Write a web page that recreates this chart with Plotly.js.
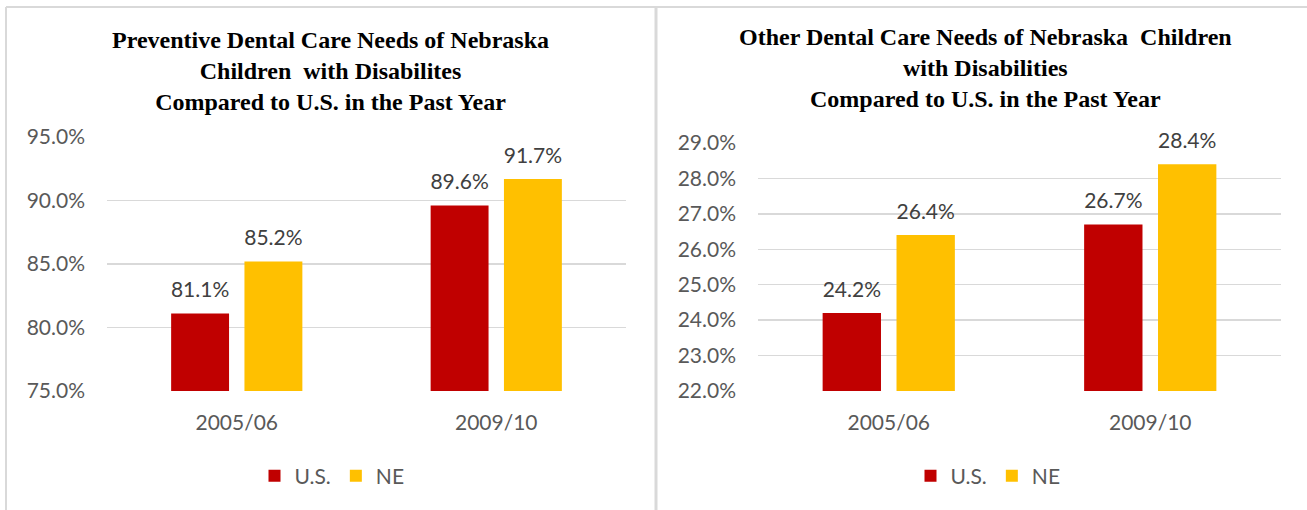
<!DOCTYPE html>
<html>
<head>
<meta charset="utf-8">
<script src="https://cdn.plot.ly/plotly-3.0.1.min.js"></script>
<style>html,body{margin:0;padding:0;background:#fff;}#chart{width:1307px;height:510px;}</style>
</head>
<body>
<div id="chart"></div>
<script>
const categories = ['2005/06', '2009/10'];
const seriesNames = ['U.S.', 'NE'];
const preventiveUS = [81.1, 89.6];
const preventiveNE = [85.2, 91.7];
const otherUS = [24.2, 26.7];
const otherNE = [26.4, 28.4];
const leftTitle = 'Preventive Dental Care Needs of Nebraska<br>Children\u00a0 with Disabilites<br>Compared to U.S. in the Past Year';
const rightTitle = 'Other Dental Care Needs of Nebraska\u00a0 Children<br>with Disabilities<br>Compared to U.S. in the Past Year';

const RED = '#C00000', GOLD = '#FFC000';
const W = 1307, H = 510;
const px = v => v / W, py = v => 1 - v / H;
const tickFont = {family: 'Lato, sans-serif', size: 21, color: '#595959'};
const labelFont = {family: 'Lato, sans-serif', size: 21, color: '#404040'};

function bar(name, y, color, xa, ya, og, ag, legend) {
  return {type: 'bar', name: name, x: categories, y: y, xaxis: xa, yaxis: ya,
    marker: {color: color}, offsetgroup: og, alignmentgroup: ag, legend: legend,
    hoverinfo: 'skip'};
}
function labels(y, xa, ya, og, ag) {
  return {type: 'scatter', mode: 'markers+text', x: categories, y: y, xaxis: xa, yaxis: ya,
    text: y.map(v => v.toFixed(1) + '%'), textposition: 'top center', textfont: labelFont,
    marker: {size: 16, opacity: 0}, offsetgroup: og, alignmentgroup: ag,
    showlegend: false, hoverinfo: 'skip', cliponaxis: false};
}

const data = [
  bar(seriesNames[0], preventiveUS, RED, 'x', 'y', 'us', 'L', 'legend'),
  bar(seriesNames[1], preventiveNE, GOLD, 'x', 'y', 'ne', 'L', 'legend'),
  bar(seriesNames[0], otherUS, RED, 'x2', 'y2', 'us', 'R', 'legend2'),
  bar(seriesNames[1], otherNE, GOLD, 'x2', 'y2', 'ne', 'R', 'legend2'),
  labels(preventiveUS, 'x', 'y', 'us', 'L'),
  labels(preventiveNE, 'x', 'y', 'ne', 'L'),
  labels(otherUS, 'x2', 'y2', 'us', 'R'),
  labels(otherNE, 'x2', 'y2', 'ne', 'R')
];

const xCommon = {type: 'category', showgrid: false, showline: false, zeroline: false, ticks: '',
  tickfont: tickFont, ticklabelstandoff: 17, fixedrange: true};
const yCommon = {showgrid: true, gridcolor: '#D9D9D9', gridwidth: 1.3, showline: false, zeroline: false,
  ticks: '', tickfont: tickFont, tickformat: '.1f', ticksuffix: '%', ticklabelstandoff: 21, fixedrange: true};

const borderColor = '#D9D9D9';
const layout = {
  width: W, height: H,
  margin: {l: 0, r: 0, t: 0, b: 0},
  paper_bgcolor: '#fff', plot_bgcolor: '#fff',
  showlegend: true,
  barmode: 'group', bargap: 0.435, bargroupgap: 0.21,
  scattermode: 'group', scattergap: 0.435,
  xaxis: Object.assign({}, xCommon, {domain: [px(107), px(626)], anchor: 'y'}),
  yaxis: Object.assign({}, yCommon, {domain: [1 - 391 / H, 1 - 137 / H], range: [75, 95], dtick: 5, anchor: 'x'}),
  xaxis2: Object.assign({}, xCommon, {domain: [px(758), px(1281)], anchor: 'y2'}),
  yaxis2: Object.assign({}, yCommon, {domain: [1 - 391 / H, 1 - 143 / H], range: [22, 29], dtick: 1, anchor: 'x2'}),
  legend: {orientation: 'h', x: px(332), xanchor: 'center', y: py(476), yanchor: 'middle',
    font: tickFont, bgcolor: 'rgba(0,0,0,0)'},
  legend2: {orientation: 'h', x: px(988), xanchor: 'center', y: py(476), yanchor: 'middle',
    font: tickFont, bgcolor: 'rgba(0,0,0,0)'},
  annotations: [
    {text: leftTitle, xref: 'paper', yref: 'paper', x: px(330), y: py(71), xanchor: 'center', yanchor: 'middle',
      showarrow: false, font: {family: '"Liberation Serif", "Times New Roman", serif', size: 24, color: '#000', weight: 'bold'}},
    {text: rightTitle, xref: 'paper', yref: 'paper', x: px(985), y: py(68), xanchor: 'center', yanchor: 'middle',
      showarrow: false, font: {family: '"Liberation Serif", "Times New Roman", serif', size: 24, color: '#000', weight: 'bold'}}
  ],
  shapes: [
    {type: 'line', xref: 'paper', yref: 'paper', x0: px(6), x1: 1, y0: py(7), y1: py(7), line: {color: borderColor, width: 2}},
    {type: 'line', xref: 'paper', yref: 'paper', x0: px(6), x1: px(6), y0: py(7), y1: 0, line: {color: borderColor, width: 2}},
    {type: 'line', xref: 'paper', yref: 'paper', x0: px(656), x1: px(656), y0: py(7), y1: 0, line: {color: borderColor, width: 3}}
  ]
};

Plotly.newPlot('chart', data, layout, {staticPlot: true, displayModeBar: false});
</script>
</body>
</html>
